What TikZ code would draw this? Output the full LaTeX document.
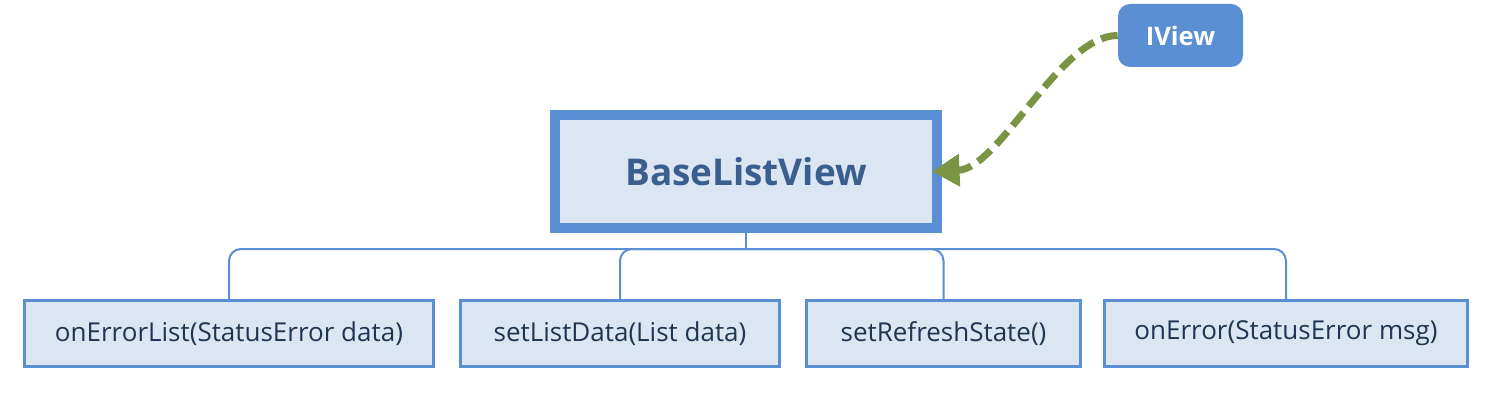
\documentclass[tikz,border=0pt]{standalone}
\usepackage{fontspec}
\setmainfont{Open Sans}
\usepackage{xcolor}
\usetikzlibrary{arrows.meta,positioning,calc}
\definecolor{accent}{HTML}{5B8FD4}
\definecolor{boxfill}{HTML}{DCE6F2}
\definecolor{titletext}{HTML}{3A5F8F}
\definecolor{methodtext}{HTML}{1F3552}
\definecolor{implements}{HTML}{7A9443}

\begin{document}
\begin{tikzpicture}[
  main/.style={rectangle, draw=accent, fill=boxfill, line width=0.2cm, minimum width=7.64cm, minimum height=2.26cm, font=\fontsize{21}{25}\selectfont\bfseries, text=titletext},
  iface/.style={rectangle, fill=accent, rounded corners=0.24cm, minimum width=2.5cm, minimum height=1.26cm, font=\fontsize{14.5}{17}\selectfont\bfseries, text=white},
  method/.style={rectangle, draw=accent, fill=boxfill, line width=0.06cm, minimum height=1.32cm, font=\fontsize{14.8}{18}\selectfont, text=methodtext},
  tree/.style={draw=accent, line width=0.04cm, rounded corners=0.24cm},
  arrow/.style={-{Triangle[length=0.55cm,width=0.62cm]}, implements, line width=0.14cm, dash pattern=on 0.34cm off 0.16cm}
]
\useasboundingbox (0,0) rectangle (30.12,8.08);

\node[main] (base) at (14.92,4.65) {BaseListView};
\node[iface] (iview) at (23.61,7.37) {IView};

\node[method, minimum width=8.18cm] (errlist) at (4.58,1.41) {onErrorList(StatusError data)};
\node[method, minimum width=6.38cm] (listdata) at (12.40,1.41) {setListData(List data)};
\node[method, minimum width=5.48cm] (refresh) at (18.87,1.41) {setRefreshState()};
\node[method, minimum width=7.26cm] (onerr) at (25.72,1.41) {onError(StatusError msg)};

% tree from the base view to its methods
\coordinate (fork) at ($(base.south)+(0,-0.32)$);
\draw[tree] (base.south) -- (fork);
\foreach \m in {errlist, listdata, refresh, onerr}
  \draw[tree] (fork) -| (\m.north);

% interface
\draw[arrow] (iview.west) .. controls +(-1.16,0) and +(1.36,0.06) .. ([xshift=-0.2cm]base.east);
\end{tikzpicture}
\end{document}
